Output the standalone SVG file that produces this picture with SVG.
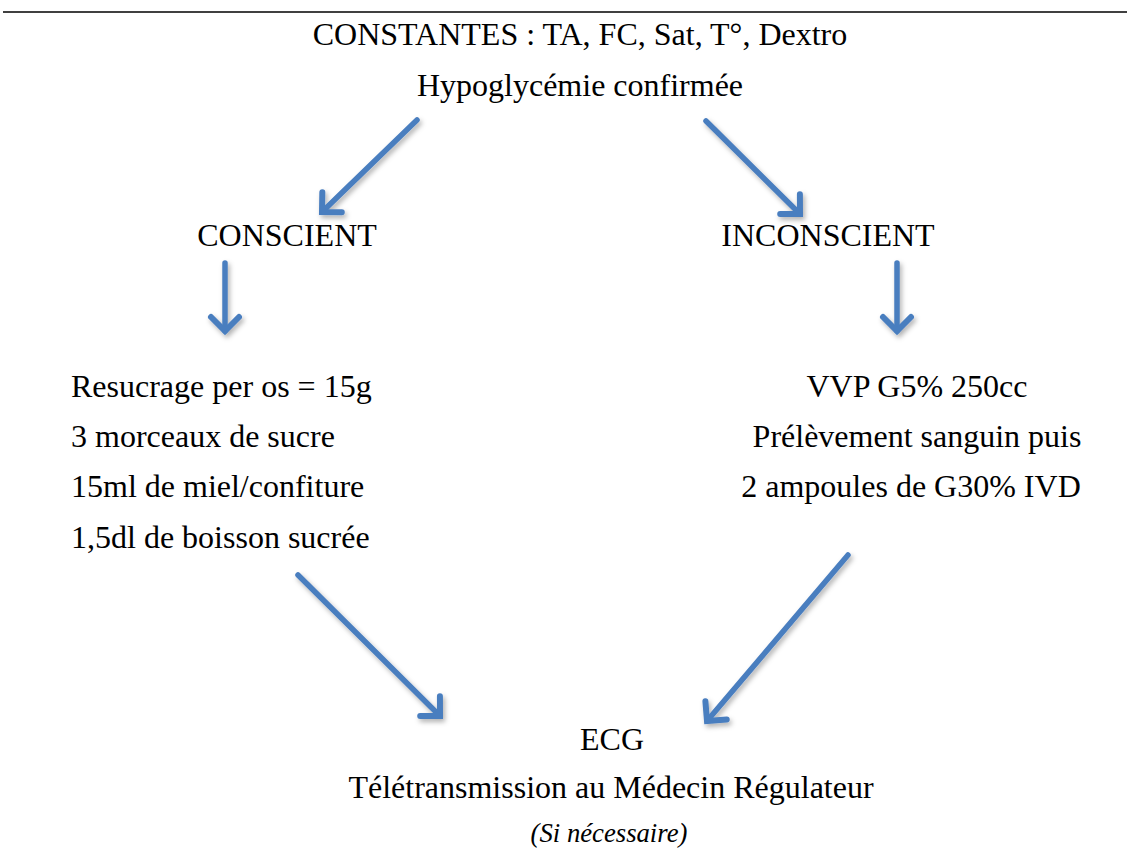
<svg xmlns="http://www.w3.org/2000/svg" width="1140" height="850" viewBox="0 0 1140 850">
<style>
  .t { font-family: "Liberation Serif", "Times New Roman", serif; font-size: 32px; fill: #000; }
  .c { text-anchor: middle; }
  .it { font-style: italic; font-size: 26.7px; }
  .arr { stroke: #4A7EBF; stroke-width: 5.5; fill: none; stroke-linecap: round; marker-end: url(#head); }
</style>
<defs>
  <marker id="head" markerUnits="userSpaceOnUse" markerWidth="40" markerHeight="40" refX="0" refY="0" viewBox="-20 -20 40 40" orient="auto" overflow="visible">
    <path d="M -14,-14 L 0,0 L -14,14" fill="none" stroke="#4A7EBF" stroke-width="6" stroke-linecap="round" stroke-linejoin="miter"/>
  </marker>
  <filter id="sh" x="-20%" y="-20%" width="140%" height="140%">
    <feDropShadow dx="2" dy="3" stdDeviation="2.5" flood-color="#000" flood-opacity="0.3"/>
  </filter>
</defs>
<rect width="1140" height="850" fill="#fff"/>
<line x1="3" y1="12" x2="1127" y2="12" stroke="#000" stroke-width="1.5"/>

<g id="constantes"><text class="t c" x="580" y="45">CONSTANTES : TA, FC, Sat, T°, Dextro</text></g>
<g id="hypoglycemie"><text class="t c" x="580" y="96">Hypoglycémie confirmée</text></g>
<g id="conscient"><text class="t c" x="287" y="246">CONSCIENT</text></g>
<g id="inconscient"><text class="t c" x="828" y="246">INCONSCIENT</text></g>
<g id="resucrage">
  <text class="t" x="71" y="397">Resucrage per os = 15g</text>
  <text class="t" x="71" y="447">3 morceaux de sucre</text>
  <text class="t" x="71" y="497">15ml de miel/confiture</text>
  <text class="t" x="71" y="548">1,5dl de boisson sucrée</text>
</g>
<g id="vvp">
  <text class="t c" x="917" y="397">VVP G5% 250cc</text>
  <text class="t c" x="917" y="447">Prélèvement sanguin puis</text>
  <text class="t c" x="911" y="497">2 ampoules de G30% IVD</text>
</g>
<g id="ecg">
  <text class="t c" x="612" y="750">ECG</text>
  <text class="t c" x="611" y="798">Télétransmission au Médecin Régulateur</text>
  <text class="t c it" x="609" y="842">(Si nécessaire)</text>
</g>

<g id="connectors" filter="url(#sh)">
  <line class="arr" x1="417" y1="120" x2="322" y2="212"/>
  <line class="arr" x1="706" y1="121" x2="800" y2="214"/>
  <line class="arr" x1="225" y1="263" x2="225" y2="331"/>
  <line class="arr" x1="897" y1="263" x2="897" y2="331"/>
  <line class="arr" x1="298" y1="575" x2="440" y2="716"/>
  <line class="arr" x1="848" y1="555" x2="707" y2="721"/>
</g>
</svg>
